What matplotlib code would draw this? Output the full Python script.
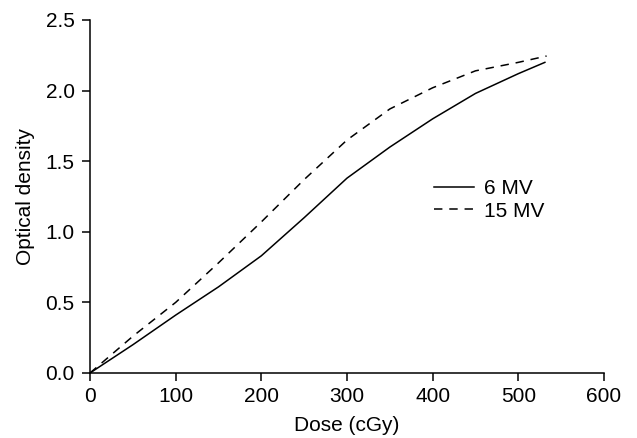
import matplotlib
matplotlib.use("Agg")
import matplotlib.pyplot as plt

dose_6mv = [0, 50, 100, 150, 200, 250, 300, 350, 400, 450, 500, 531]
od_6mv = [0, 0.20, 0.41, 0.61, 0.83, 1.10, 1.38, 1.60, 1.80, 1.98, 2.12, 2.20]
dose_15mv = [0, 50, 100, 150, 200, 250, 300, 350, 400, 450, 500, 533]
od_15mv = [0, 0.26, 0.50, 0.78, 1.07, 1.37, 1.65, 1.87, 2.02, 2.14, 2.20, 2.245]
x_ticks = [0, 100, 200, 300, 400, 500, 600]
y_ticks = [0.0, 0.5, 1.0, 1.5, 2.0, 2.5]

plt.rcParams['font.family'] = ['Liberation Sans', 'DejaVu Sans']
W, H = 637, 438
fig = plt.figure(figsize=(W/100, H/100), dpi=100)
L, R, T, B = 90, 604, 20, 373
ax = fig.add_axes([L/W, 1-B/H, (R-L)/W, (B-T)/H])

ax.plot(dose_6mv, od_6mv, color='black', lw=1.1, ls='-', label='6 MV')
ax.plot(dose_15mv, od_15mv, color='black', lw=1.1, ls=(0, (5.5, 4.5)), label='15 MV')

ax.set_xlim(0, 600)
ax.set_ylim(0, 2.5)
ax.set_xticks(x_ticks)
ax.set_yticks(y_ticks)
ax.set_yticklabels([f"{v:.1f}" for v in y_ticks])
ax.spines['top'].set_visible(False)
ax.spines['right'].set_visible(False)
ax.spines['left'].set_linewidth(1.1)
ax.spines['bottom'].set_linewidth(1.1)
ax.tick_params(direction='out', length=6, width=1.1, labelsize=15)
ax.tick_params(axis='x', pad=4)
ax.tick_params(axis='y', pad=5)
ax.set_xlabel('Dose (cGy)', fontsize=15)
ax.set_ylabel('Optical density', fontsize=15)
ax.xaxis.set_label_coords(0.5, -(416-B)/(B-T))
ax.yaxis.set_label_coords(-(L-35)/(R-L), 0.5)
ax.legend(loc='center left', bbox_to_anchor=((434-L)/(R-L), (B-200)/(B-T)),
          frameon=False, fontsize=15, handlelength=1.9, handletextpad=0.5,
          labelspacing=0.15, borderpad=0, borderaxespad=0)

fig.savefig('out.png', dpi=100)
